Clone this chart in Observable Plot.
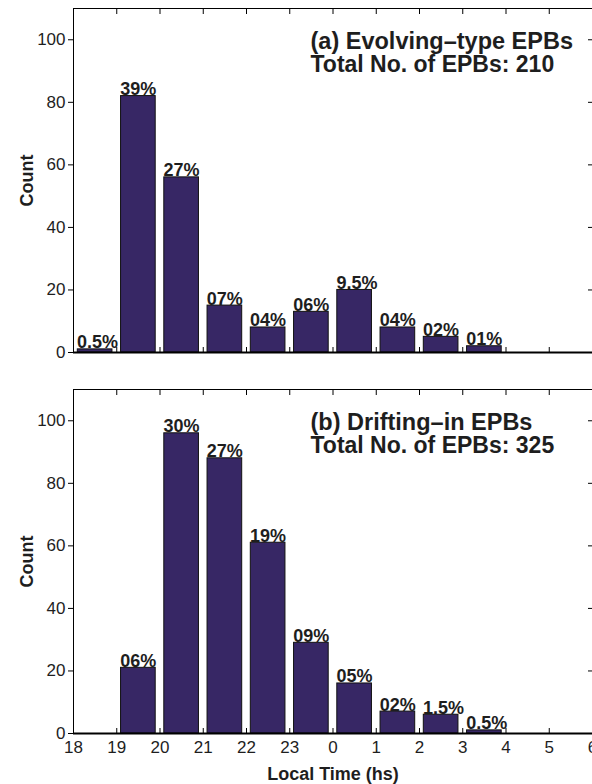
<!DOCTYPE html>
<html>
<head>
<meta charset="utf-8">
<script src="https://cdn.jsdelivr.net/npm/d3@7"></script>
<script src="https://cdn.jsdelivr.net/npm/@observablehq/plot@0.6"></script>
<style>
  html, body { margin: 0; padding: 0; background: #fff; }
  #chart { width: 592px; }
  #chart svg { display: block; font-family: "Liberation Sans", Arial, Helvetica, sans-serif; }
  g[aria-label="y-axis label"] text, g[aria-label="x-axis label"] text { font-weight: bold; font-size: 18px; }
</style>
</head>
<body>
<div id="chart"></div>
<script>
// ---- Data ----
const hoursA  = [18, 19, 20, 21, 22, 23, 0, 1, 2, 3];
const countsA = [1, 82, 56, 15, 8, 13, 20, 8, 5, 2];
const labelsA = ["0.5%", "39%", "27%", "07%", "04%", "06%", "9.5%", "04%", "02%", "01%"];

const hoursB  = [19, 20, 21, 22, 23, 0, 1, 2, 3];
const countsB = [21, 96, 88, 61, 29, 16, 7, 6, 1];
const labelsB = ["06%", "30%", "27%", "19%", "09%", "05%", "02%", "1.5%", "0.5%"];

const xTickLabels = ["18", "19", "20", "21", "22", "23", "0", "1", "2", "3", "4", "5", "6"];
const yTicks = [0, 20, 40, 60, 80, 100];

const titleA1 = "(a) Evolving\u2013type EPBs";
const titleA2 = "Total No. of EPBs: 210";
const titleB1 = "(b) Drifting\u2013in EPBs";
const titleB2 = "Total No. of EPBs: 325";
const xLabel = "Local Time (hs)";
const yLabel = "Count";

// continuous hour axis: hours after midnight continue past 24
const toCont = h => (h < 18 ? h + 24 : h);
const xTicks = xTickLabels.map(s => toCont(+s));

function makeTable(hours, counts, labels) {
  return hours.map((h, i) => ({t: toCont(h), count: counts[i], label: labels[i]}));
}

const barFill = "#372765";
const ink = "#1e1e1e";

function panel({data, title1, title2, showX, height, marginTop, marginBottom}) {
  const marks = [
    Plot.rectY(data, {
      x1: "t", x2: d => d.t + 1, y: "count",
      insetLeft: 4.3, insetRight: 4.3,
      fill: barFill, stroke: "#111", strokeWidth: 1
    }),
    Plot.text(data, {
      x: "t", y: "count", text: "label",
      textAnchor: "start", lineAnchor: "bottom",
      dx: 3.5, dy: -1,
      fontWeight: "bold", fontSize: 18, fill: ink
    }),
    Plot.frame({stroke: "#000", strokeWidth: 1}),
    Plot.ruleY([0], {stroke: "#000", strokeWidth: 2}),
    // inward ticks on bottom and top
    Plot.axisX({anchor: "bottom", ticks: xTicks, tickSize: -5, text: null, label: null, stroke: "#000"}),
    Plot.axisX({anchor: "top", ticks: xTicks, tickSize: -5, text: null, label: null, stroke: "#000"}),
    // y axes
    Plot.axisY({anchor: "left", ticks: yTicks, tickSize: 5, tickPadding: 3, fontSize: 17, fill: ink, stroke: "#000",
      label: yLabel, labelAnchor: "center", labelArrow: "none", labelOffset: 53}),
    Plot.axisY({anchor: "right", ticks: yTicks, tickSize: -5, text: null, label: null, stroke: "#000"}),
    Plot.text([title1], {
      frameAnchor: "top-left", dx: 237, dy: 40,
      lineAnchor: "bottom", textAnchor: "start",
      fontSize: 23.5, fontWeight: "bold", fill: ink
    }),
    Plot.text([title2], {
      frameAnchor: "top-left", dx: 237, dy: 63,
      lineAnchor: "bottom", textAnchor: "start",
      fontSize: 23, fontWeight: "bold", fill: ink
    })
  ];
  if (showX) {
    marks.push(Plot.axisX({
      anchor: "bottom", ticks: xTicks, tickSize: 0, tickPadding: 7,
      tickFormat: (d, i) => xTickLabels[i], fontSize: 17, fill: ink,
      label: xLabel, labelAnchor: "center", labelArrow: "none", labelOffset: 46
    }));
  }
  return Plot.plot({
    width: 592, height,
    marginLeft: 73, marginRight: 0, marginTop, marginBottom,
    style: {fontFamily: "Liberation Sans, Arial, sans-serif", fontSize: "17px", color: ink, background: "#fff"},
    x: {domain: [18, 30], axis: null},
    y: {domain: [0, 110], axis: null},
    marks
  });
}

const chart = document.getElementById("chart");
chart.appendChild(panel({data: makeTable(hoursA, countsA, labelsA), title1: titleA1, title2: titleA2, showX: false, height: 370, marginTop: 8, marginBottom: 18}));
chart.appendChild(panel({data: makeTable(hoursB, countsB, labelsB), title1: titleB1, title2: titleB2, showX: true, height: 414, marginTop: 19, marginBottom: 51}));
</script>
</body>
</html>
